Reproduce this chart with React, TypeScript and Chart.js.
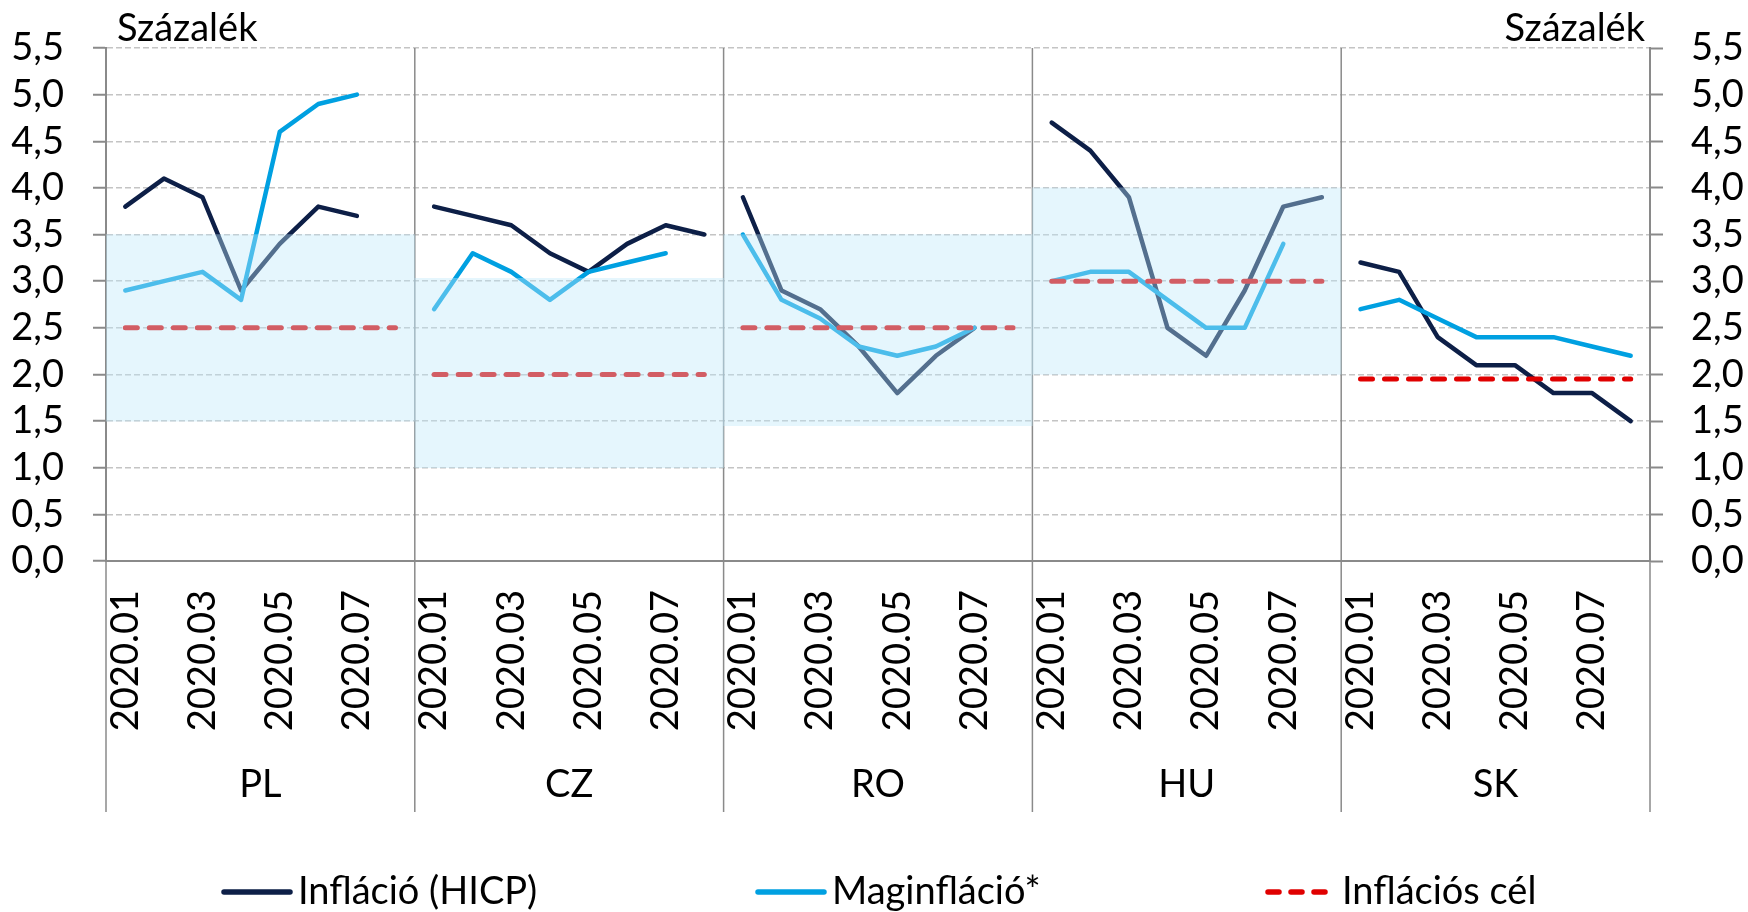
import React, { useEffect, useRef } from 'react';
import { Chart, registerables } from 'chart.js';

Chart.register(...registerables);

// ---- data ----
const countries = ['PL', 'CZ', 'RO', 'HU', 'SK'];
const months = ['2020.01', '2020.02', '2020.03', '2020.04', '2020.05', '2020.06', '2020.07', '2020.08'];
const shownMonths = ['2020.01', '2020.03', '2020.05', '2020.07'];

const hicpPL = [3.8, 4.1, 3.9, 2.9, 3.4, 3.8, 3.7, null];
const hicpCZ = [3.8, 3.7, 3.6, 3.3, 3.1, 3.4, 3.6, 3.5];
const hicpRO = [3.9, 2.9, 2.7, 2.3, 1.8, 2.2, 2.5, null];
const hicpHU = [4.7, 4.4, 3.9, 2.5, 2.2, 2.9, 3.8, 3.9];
const hicpSK = [3.2, 3.1, 2.4, 2.1, 2.1, 1.8, 1.8, 1.5];

const corePL = [2.9, 3.0, 3.1, 2.8, 4.6, 4.9, 5.0, null];
const coreCZ = [2.7, 3.3, 3.1, 2.8, 3.1, 3.2, 3.3, null];
const coreRO = [3.5, 2.8, 2.6, 2.3, 2.2, 2.3, 2.5, null];
const coreHU = [3.0, 3.1, 3.1, 2.8, 2.5, 2.5, 3.4, null];
const coreSK = [2.7, 2.8, 2.6, 2.4, 2.4, 2.4, 2.3, 2.2];

const targetPL = [2.5, 2.5, 2.5, 2.5, 2.5, 2.5, 2.5, 2.5];
const targetCZ = [2.0, 2.0, 2.0, 2.0, 2.0, 2.0, 2.0, 2.0];
const targetRO = [2.5, 2.5, 2.5, 2.5, 2.5, 2.5, 2.5, 2.5];
const targetHU = [3.0, 3.0, 3.0, 3.0, 3.0, 3.0, 3.0, 3.0];
const targetSK = [1.95, 1.95, 1.95, 1.95, 1.95, 1.95, 1.95, 1.95];

// tolerance bands (low, high) per country; SK has none
const bandLow = [1.5, 1.0, 1.45, 2.0, null];
const bandHigh = [3.5, 3.03, 3.5, 4.0, null];

const seriesNames = ['Infláció (HICP)', 'Maginfláció*', 'Inflációs cél'];
const yMin = 0;
const yMax = 5.5;
const yStep = 0.5;

// ---- styles ----
const NAVY = '#0D1F47';
const CYAN = '#00A0E1';
const RED = '#E00000';
const BAND = 'rgba(190,232,250,0.4)';
const AXIS = '#8A8A8A';
const GRID = '#C4C4C4';
const FONT = 'Lato';
const FS = 38;

const hicpByCountry = [hicpPL, hicpCZ, hicpRO, hicpHU, hicpSK];
const coreByCountry = [corePL, coreCZ, coreRO, coreHU, coreSK];
const targetByCountry = [targetPL, targetCZ, targetRO, targetHU, targetSK];

const allLabels: string[] = [];
countries.forEach(() => months.forEach((m) => allLabels.push(m)));

function spread(g: number, vals: (number | null)[]) {
  const out: (number | null)[] = allLabels.map(() => null);
  vals.forEach((v, i) => {
    out[g * months.length + i] = v;
  });
  return out;
}

const dividerPlugin = {
  id: 'dividers',
  beforeDatasetsDraw(chart: any) {
    const { ctx, chartArea } = chart;
    const x = chart.scales.x;
    const x2 = chart.scales.x2;
    ctx.save();
    ctx.strokeStyle = AXIS;
    ctx.lineWidth = 1.5;
    for (let g = 0; g <= countries.length; g++) {
      let px: number;
      if (g === 0) px = x.left;
      else if (g === countries.length) px = x.right;
      else px = (x.getPixelForValue(g * months.length - 1) + x.getPixelForValue(g * months.length)) / 2;
      ctx.beginPath();
      ctx.moveTo(px, chartArea.top);
      ctx.lineTo(px, x2.bottom);
      ctx.stroke();
    }
    ctx.restore();
  },
};

export default function App() {
  const ref = useRef<HTMLCanvasElement>(null);

  useEffect(() => {
    if (!ref.current) return;
    const datasets: any[] = [];
    datasets.push({
      type: 'bar',
      label: 'band',
      data: countries.map((_, i) => (bandLow[i] == null ? null : [bandLow[i], bandHigh[i]])),
      xAxisID: 'x2',
      yAxisID: 'y',
      backgroundColor: BAND,
      borderWidth: 0,
      barPercentage: 1,
      categoryPercentage: 1,
      grouped: false,
      order: 0,
    });
    countries.forEach((c, g) => {
      datasets.push({
        type: 'line',
        label: seriesNames[0] + ' ' + c,
        data: spread(g, hicpByCountry[g]),
        borderColor: NAVY,
        borderWidth: 4.5,
        pointRadius: 0,
        borderCapStyle: 'round',
        borderJoinStyle: 'round',
        spanGaps: false,
        xAxisID: 'x',
        yAxisID: 'y',
        order: 3,
      });
      datasets.push({
        type: 'line',
        label: seriesNames[1] + ' ' + c,
        data: spread(g, coreByCountry[g]),
        borderColor: CYAN,
        borderWidth: 4.5,
        pointRadius: 0,
        borderCapStyle: 'round',
        borderJoinStyle: 'round',
        spanGaps: false,
        xAxisID: 'x',
        yAxisID: 'y',
        order: 2,
      });
      datasets.push({
        type: 'line',
        label: seriesNames[2] + ' ' + c,
        data: spread(g, targetByCountry[g]),
        borderColor: RED,
        borderWidth: 5,
        borderDash: [12, 12],
        borderCapStyle: 'round',
        pointRadius: 0,
        spanGaps: false,
        xAxisID: 'x',
        yAxisID: 'y',
        order: 1,
      });
    });

    const tickFont = { family: FONT, size: FS };
    const yTickFont = { family: FONT, size: FS, lineHeight: 1 };
    const chart = new Chart(ref.current, {
      type: 'line',
      data: { labels: allLabels, datasets },
      plugins: [dividerPlugin],
      options: {
        responsive: false,
        animation: false,
        events: [],
        layout: { padding: { top: 48, bottom: 100, left: 0, right: 0 } },
        plugins: { legend: { display: false }, tooltip: { enabled: false } },
        scales: {
          x: {
            type: 'category',
            position: 'bottom',
            offset: true,
            weight: 0,
            grid: { display: false, drawTicks: false },
            border: { display: true, color: AXIS, width: 2 },
            ticks: {
              autoSkip: false,
              minRotation: 90,
              maxRotation: 90,
              padding: 29,
              color: '#000',
              font: tickFont,
              callback: function (this: any, val: any) {
                const lab = this.getLabelForValue(val);
                return shownMonths.includes(lab) ? lab : '';
              },
            },
            afterFit: (s: any) => {
              s.height = 180;
            },
          },
          x2: {
            type: 'category',
            position: 'bottom',
            labels: countries,
            offset: true,
            weight: 1,
            grid: { display: false, drawTicks: false },
            border: { display: false },
            ticks: { padding: 21, color: '#000', font: tickFont },
            afterFit: (s: any) => {
              s.height = 71;
            },
          },
          y: {
            type: 'linear',
            position: 'left',
            min: yMin,
            max: yMax,
            grid: {
              color: GRID,
              lineWidth: 1.5,
              tickLength: 13,
              tickColor: AXIS,
              tickWidth: 2,
            },
            border: { display: true, color: AXIS, width: 2, dash: [6, 3] },
            ticks: {
              stepSize: yStep,
              autoSkip: false,
              padding: 29,
              color: '#000',
              font: yTickFont,
              callback: (v: any) => Number(v).toFixed(1).replace('.', ','),
            },
            afterFit: (s: any) => {
              s.width = 106;
            },
          },
          y2: {
            type: 'linear',
            position: 'right',
            min: yMin,
            max: yMax,
            grid: {
              drawOnChartArea: false,
              tickLength: 13,
              tickColor: AXIS,
              tickWidth: 2,
            },
            border: { display: true, color: AXIS, width: 2 },
            ticks: {
              stepSize: yStep,
              autoSkip: false,
              padding: 28,
              color: '#000',
              font: yTickFont,
              callback: (v: any) => Number(v).toFixed(1).replace('.', ','),
            },
            afterFit: (s: any) => {
              s.width = 98;
            },
          },
        },
      } as any,
    });
    return () => chart.destroy();
  }, []);

  const textStyle: React.CSSProperties = {
    position: 'absolute',
    fontFamily: FONT,
    fontSize: FS,
    lineHeight: `${FS}px`,
    color: '#000',
    whiteSpace: 'nowrap',
  };

  const legendItems = [
    { name: seriesNames[0], color: NAVY, dash: '', left: 221 },
    { name: seriesNames[1], color: CYAN, dash: '', left: 755 },
    { name: seriesNames[2], color: RED, dash: '11 12', left: 1265 },
  ];

  return (
    <div
      style={{
        position: 'absolute',
        left: 0,
        top: 0,
        width: 1748,
        height: 912,
        overflow: 'hidden',
        background: '#fff',
      }}
    >
      <canvas ref={ref} width={1748} height={912} style={{ display: 'block' }} />
      <div style={{ ...textStyle, left: 117, top: 7 }}>Százalék</div>
      <div style={{ ...textStyle, right: 1748 - 1645, top: 7 }}>Százalék</div>
      {legendItems.map((it) => (
        <div key={it.name} style={{ ...textStyle, left: it.left, top: 870, display: 'flex', alignItems: 'center' }}>
          <svg width={72} height={10} style={{ position: 'relative', top: 3 }}>
            <line
              x1={3}
              y1={5}
              x2={69}
              y2={5}
              stroke={it.color}
              strokeWidth={5.5}
              strokeLinecap="round"
              strokeDasharray={it.dash || undefined}
            />
          </svg>
          <span style={{ marginLeft: 5 }}>{it.name}</span>
        </div>
      ))}
    </div>
  );
}
